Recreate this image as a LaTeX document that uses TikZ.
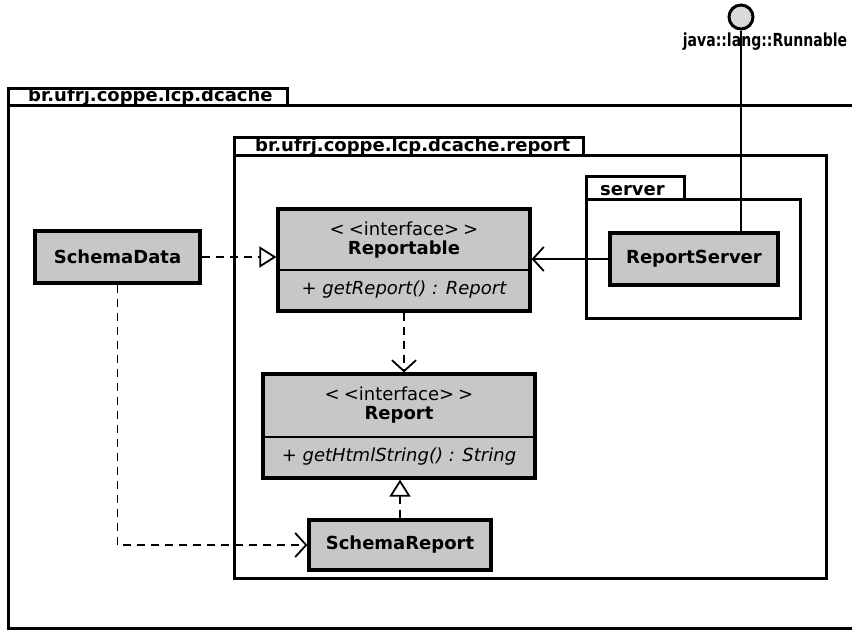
\documentclass[tikz,border=0pt]{standalone}
\usepackage{fontspec}
\setmainfont{DejaVu Sans}
\usetikzlibrary{arrows.meta}
\begin{document}
\begin{tikzpicture}[x=1pt,y=-1pt,
  pkg/.style={draw=black, line width=3pt, fill=white},
  cls/.style={draw=black, line width=3.2pt, fill=black!22, inner sep=0pt},
  bold/.style={font=\fontsize{18}{21}\selectfont\bfseries, inner sep=0pt},
  plain/.style={font=\fontsize{18}{21}\selectfont, inner sep=0pt},
  oper/.style={font=\fontsize{18}{21}\selectfont\itshape, inner sep=0pt},
  conn/.style={line width=1.8pt},
  dep/.style={conn, dash pattern=on 8pt off 6pt},
  realize/.style={-{Triangle[open, length=17pt, width=21pt, line width=1.8pt, fill=white]}},
  navig/.style={-{Straight Barb[length=11pt, width=24pt, line width=1.8pt]}}
]
\useasboundingbox (0,0) rectangle (852,633);
\clip (0,0) rectangle (852,633);
\fill[white] (0,0) rectangle (852,633);

% outer package
\draw[pkg] (8,88) rectangle (287,105);
\draw[pkg] (8,105) rectangle (862,628);
\node[bold, anchor=base west] (pkgouter) at (28,101) {\underline{br.ufrj.coppe.lcp.dcache}};

% inner package
\draw[pkg] (234,137) rectangle (583,155);
\draw[pkg] (234,155) rectangle (826,578);
\node[bold, anchor=base west] (pkgreport) at (255,151) {\underline{br.ufrj.coppe.lcp.dcache.report}};

% server package
\draw[pkg] (586,176) rectangle (684,199);
\draw[pkg] (586,199) rectangle (800,318);
\node[bold, anchor=base west] (pkgserver) at (600,195) {server};

% classes
\node[cls, minimum width=165, minimum height=52, bold] (schemadata) at (117.5,257) {SchemaData};
\node[cls, minimum width=252, minimum height=102] (reportable) at (404,260) {};
\draw[line width=1.8pt] (reportable.west |- 0,270) -- (reportable.east |- 0,270);
\node[plain] (reportablest) at (404,229) {<\kern4pt<interface>\kern4pt>};
\node[bold] (reportablename) at (404,250) {Reportable};
\node[oper] (reportableop) at (404,290) {+ getReport() : Report};

\node[cls, minimum width=168, minimum height=52, bold] (reportserver) at (694,259) {ReportServer};

\node[cls, minimum width=272, minimum height=104] (report) at (399,426) {};
\draw[line width=1.8pt] (report.west |- 0,437) -- (report.east |- 0,437);
\node[plain] (reportst) at (399,394) {<\kern4pt<interface>\kern4pt>};
\node[bold] (reportname) at (399,415) {Report};
\node[oper] (reportop) at (399,457) {+ getHtmlString() : String};

\node[cls, minimum width=182, minimum height=50, bold] (schemareport) at (400,545) {SchemaReport};

% interface lollipop
\node[circle, draw=black, line width=3pt, fill=black!15, minimum size=24, inner sep=0pt] (runnable) at (741,17) {};
\node[bold] (runnablelbl) at (765,42) {\scalebox{0.78}[1]{java::lang::Runnable}};

% connectors
\draw[conn] (runnable.south) -- (runnable.south |- reportserver.north);
\draw[dep, realize] (schemadata.east) -- (schemadata.east -| reportable.west);
\draw[conn, navig] (reportserver.west) -- (reportserver.west -| reportable.east);
\draw[dep, navig] (reportable.south) -- (reportable.south |- report.north);
\draw[dep, realize] (schemareport.north) -- (schemareport.north |- report.south);
\draw[dep, navig] (schemadata.south) |- (schemareport.west);
\end{tikzpicture}
\end{document}
